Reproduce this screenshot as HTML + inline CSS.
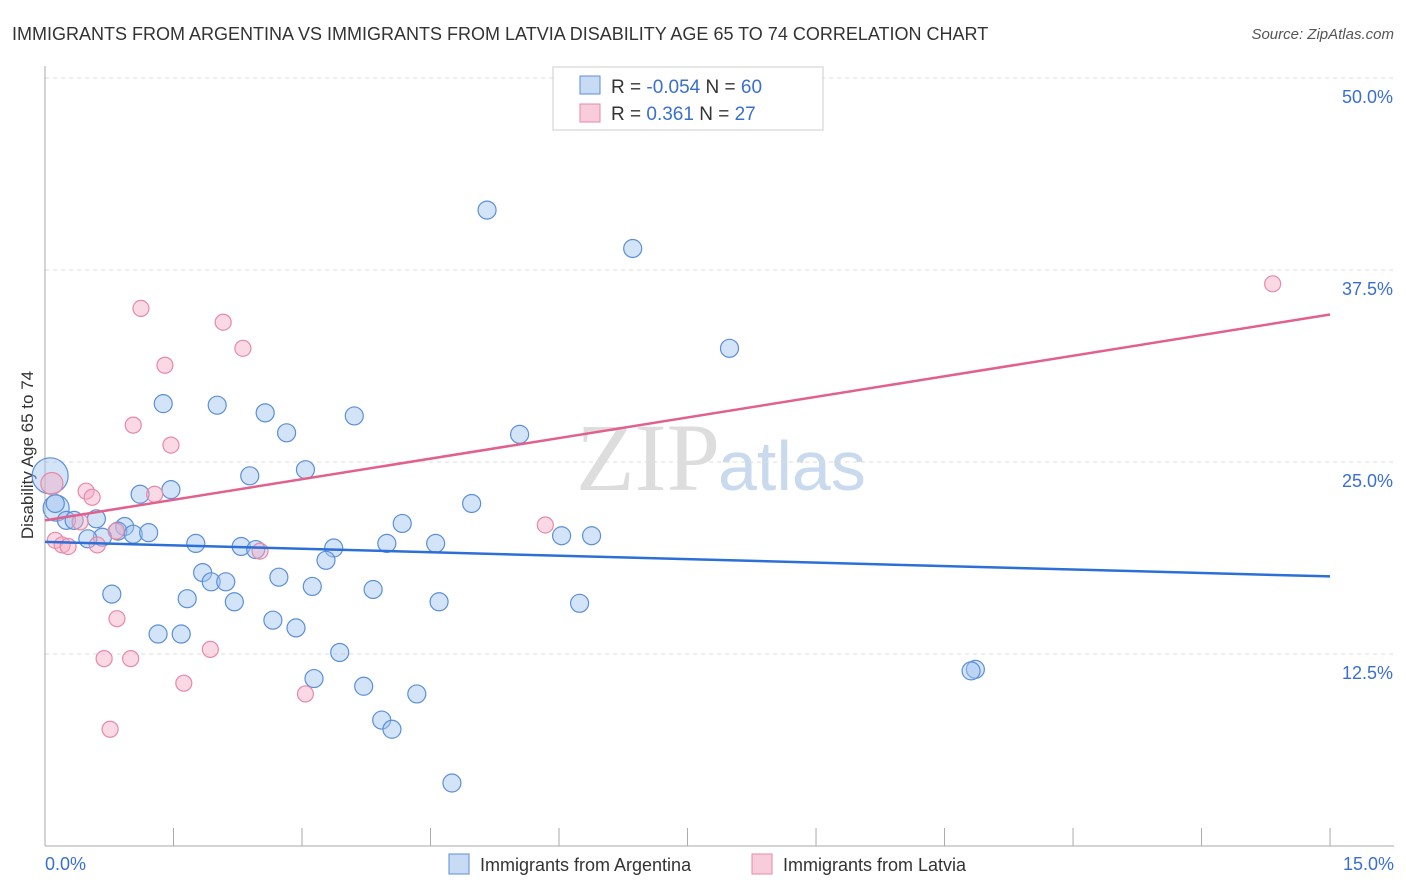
<!DOCTYPE html>
<html><head><meta charset="utf-8"><style>
body{margin:0;background:#fff;font-family:"Liberation Sans",sans-serif}
svg{display:block}
</style></head><body>
<svg id="c" width="1406" height="892">
<text x="12" y="40" font-size="18" fill="#333">IMMIGRANTS FROM ARGENTINA VS IMMIGRANTS FROM LATVIA DISABILITY AGE 65 TO 74 CORRELATION CHART</text>
<text x="1394" y="39" font-size="15" fill="#555" text-anchor="end" font-style="italic">Source: ZipAtlas.com</text>
<text x="0" y="0" transform="translate(33,455) rotate(-90)" font-size="17" fill="#333" text-anchor="middle">Disability Age 65 to 74</text>
<text x="720" y="490" font-size="96" fill="#ddd" text-anchor="end" font-family="Liberation Serif">ZIP</text>
<text x="718" y="490" font-size="70" fill="#c9d9ee">atlas</text>
<g id="grid"></g><g id="pts"></g><g id="lines"></g>
<rect x="553" y="67" width="270" height="63" fill="#fff" stroke="#ccc"/>
<rect x="580" y="76" width="20" height="18" fill="#c7dbf5" stroke="#5b8fd8"/>
<rect x="580" y="104" width="20" height="18" fill="#f9ccdb" stroke="#e58aa8"/>
<text x="611" y="93" font-size="19" fill="#333">R = <tspan fill="#3a6fd0">-0.054</tspan>   N = <tspan fill="#3a6fd0">60</tspan></text>
<text x="611" y="120" font-size="19" fill="#333">R =   <tspan fill="#3a6fd0">0.361</tspan>   N =  <tspan fill="#3a6fd0">27</tspan></text>
<rect x="449" y="854" width="20" height="20" fill="#c7dbf5" stroke="#5b8fd8"/>
<text x="480" y="871" font-size="18" fill="#333">Immigrants from Argentina</text>
<rect x="752" y="854" width="20" height="20" fill="#f9ccdb" stroke="#e58aa8"/>
<text x="783" y="871" font-size="18" fill="#333">Immigrants from Latvia</text>
</svg>
<script>
const yTicks=[12.5,25,37.5,50];
const yTickLabels=["12.5%","25.0%","37.5%","50.0%"];
const xEndLabels=["0.0%","15.0%"];
const blueX=[5.16,6.86,7.99,1.38,2.01,2.57,3.61,2.82,5.54,2.39,3.04,1.47,1.11,4.98,0.13,0.6,0.25,0.34,4.17,0.93,0.85,1.03,1.21,0.67,0.5,6.03,6.38,1.76,2.29,2.46,3.99,4.56,3.37,3.28,1.84,1.94,2.11,2.73,3.12,3.83,0.78,1.66,2.21,4.6,6.24,2.66,2.93,1.32,1.59,3.44,10.86,10.81,3.14,3.72,4.34,3.93,4.05,4.75,0.06,0.12];
const blueY=[41.4,38.9,32.4,28.8,28.7,28.2,28.0,26.9,26.8,24.1,24.5,23.2,22.9,22.3,22.0,21.3,21.2,21.2,21.0,20.8,20.5,20.3,20.4,20.1,20.0,20.2,20.2,19.7,19.5,19.3,19.7,19.7,19.4,18.6,17.8,17.2,17.2,17.5,16.9,16.7,16.4,16.1,15.9,15.9,15.8,14.7,14.2,13.8,13.8,12.6,11.5,11.4,10.9,10.4,9.9,8.2,7.6,4.1,24.1,22.3];
const blueR=[9,9,9,9,9,9,9,9,9,9,9,9,9,9,13,9,9,9,9,9,9,9,9,9,9,9,9,9,9,9,9,9,9,9,9,9,9,9,9,9,9,9,9,9,9,9,9,9,9,9,9,9,9,9,9,9,9,9,18,9];
const pinkX=[14.33,1.12,2.08,2.31,1.4,1.03,1.47,0.08,0.48,0.55,1.28,5.84,0.41,0.83,0.12,0.2,0.27,0.61,2.51,0.84,1.93,0.69,1.0,1.62,3.04,0.76];
const pinkY=[36.6,35.0,34.1,32.4,31.3,27.4,26.1,23.6,23.1,22.7,22.9,20.9,21.1,20.5,19.9,19.6,19.5,19.6,19.2,14.8,12.8,12.2,12.2,10.6,9.9,7.6];
const blueLine=[19.8,17.55];
const pinkLine=[21.2,34.6];
const NS="http://www.w3.org/2000/svg";
const X=v=>45+v*85.67, Y=v=>846-v*15.36;
function mk(t,a,p){const e=document.createElementNS(NS,t);for(const k in a)e.setAttribute(k,a[k]);p.appendChild(e);return e;}
const g=document.getElementById('grid');
yTicks.forEach((t,i)=>{
 const l=mk('line',{x1:45,x2:1394,y1:Y(t),y2:Y(t),stroke:'#ddd','stroke-dasharray':'4,4'},g);
 
 
 const tx=mk('text',{x:1393,y:Y(t)+25,'font-size':18,fill:'#3a6fd0','text-anchor':'end'},g);
 tx.textContent=yTickLabels[i];
 
 
});
let ax=mk('line',{x1:45,x2:45,y1:66,y2:846,stroke:'#aaa'},g);


ax=mk('line',{x1:45,x2:1394,y1:846,y2:846,stroke:'#aaa'},g);


for(let i=1;i<=10;i++){const t=mk('line',{x1:X(i*1.5),x2:X(i*1.5),y1:828,y2:846,stroke:'#aaa'},g);
 
 }
[[0,'start',45],[15,'end',1394]].forEach((d,i)=>{const t=mk('text',{x:d[2],y:870,'font-size':18,fill:'#3a6fd0','text-anchor':d[1]},g);t.textContent=xEndLabels[i];
 
 });
const p=document.getElementById('pts');
blueX.forEach((x,i)=>{const c=mk('circle',{cx:X(x),cy:Y(blueY[i]),r:blueR[i],fill:'rgba(160,195,240,0.45)',stroke:'#5b8fd8','stroke-width':1.2},p);
 
 });
pinkX.forEach((x,i)=>{const c=mk('circle',{cx:X(x),cy:Y(pinkY[i]),r:i==7?11:8,fill:'rgba(245,170,195,0.45)',stroke:'#e58aa8','stroke-width':1.2},p);
 
 });
const L=document.getElementById('lines');
let tl=mk('line',{x1:X(0),x2:X(15),y1:Y(blueLine[0]),y2:Y(blueLine[1]),stroke:'#2c6fd6','stroke-width':2.5},L);


tl=mk('line',{x1:X(0),x2:X(15),y1:Y(pinkLine[0]),y2:Y(pinkLine[1]),stroke:'#e2608c','stroke-width':2.5},L);


</script>
</body></html>
